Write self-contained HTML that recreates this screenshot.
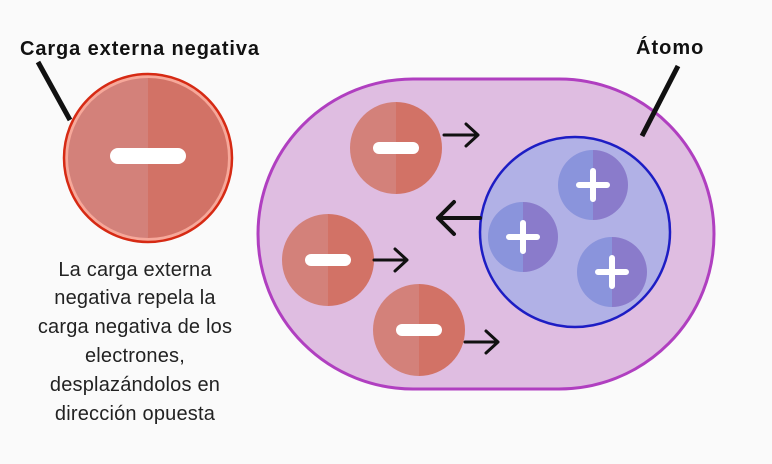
<!DOCTYPE html>
<html><head><meta charset="utf-8"><style>
html,body{margin:0;padding:0;background:#fafafa;}
svg{display:block;font-family:"Liberation Sans",sans-serif;}
</style></head><body>
<svg width="772" height="464" viewBox="0 0 772 464">
<defs>
<clipPath id="cE"><circle cx="148" cy="158" r="80"/></clipPath>
</defs>
<rect width="772" height="464" fill="#fafafa"/>
<text x="20" y="55" font-size="20" font-weight="bold" letter-spacing="0.9" fill="#111">Carga externa negativa</text>
<line x1="38" y1="62" x2="70" y2="120" stroke="#111" stroke-width="5"/>
<g>
<circle cx="148" cy="158" r="84" fill="#f6a89a" stroke="#d62a14" stroke-width="2.5"/>
<g clip-path="url(#cE)"><rect x="60" y="70" width="88" height="180" fill="#d3817a"/><rect x="148" y="70" width="90" height="180" fill="#d27266"/></g>
<rect x="110" y="148" width="76" height="16" rx="8" fill="#fff"/>
</g>
<g font-size="20" letter-spacing="0.2" fill="#222" text-anchor="middle">
<text x="135" y="276">La carga externa</text>
<text x="135" y="304">negativa repela la</text>
<text x="135" y="333">carga negativa de los</text>
<text x="135" y="362">electrones,</text>
<text x="135" y="391">desplazándolos en</text>
<text x="135" y="420">dirección opuesta</text>
</g>
<rect x="258" y="79" width="456" height="310" rx="155" fill="#dfbde1" stroke="#b03fc0" stroke-width="3"/>
<text x="636" y="54" font-size="20" font-weight="bold" letter-spacing="1" fill="#111">Átomo</text>
<line x1="678" y1="66" x2="642" y2="136" stroke="#111" stroke-width="5"/>
<circle cx="575" cy="232" r="95" fill="#b1b1e6" stroke="#1d1dc4" stroke-width="2.5"/>
<g id="protons"></g>
<g id="electrons"></g>
<g stroke="#111" fill="none" stroke-linecap="round" stroke-linejoin="round">
<path d="M444 135 H478 M466 124 L478 135 L466 146" stroke-width="3"/>
<path d="M374 260 H407 M395 249 L407 260 L395 271" stroke-width="3"/>
<path d="M465 342 H498 M486 331 L498 342 L486 353" stroke-width="3"/>
<path d="M480 218 H438 M454 202 L438 218 L454 234" stroke-width="4"/>
</g>
</svg>
<script>
const protonX=[593,523,612], protonY=[185,237,272];
const electronX=[396,328,419], electronY=[148,260,330];
const NS="http://www.w3.org/2000/svg";
function mk(t,a,p){const e=document.createElementNS(NS,t);for(const k in a)e.setAttribute(k,a[k]);p.appendChild(e);return e;}
const defs=document.querySelector('defs');
const pg=document.getElementById('protons'), eg=document.getElementById('electrons');
protonX.forEach((x,i)=>{const y=protonY[i],r=35;
 const cp=mk('clipPath',{id:'cp'+i},defs);mk('circle',{cx:x,cy:y,r:r},cp);
 const g=mk('g',{'clip-path':'url(#cp'+i+')'},pg);
 
 
 mk('rect',{x:x-r,y:y-r,width:r,height:2*r,fill:'#8a94dc'},g);
 mk('rect',{x:x,y:y-r,width:r,height:2*r,fill:'#8a7bcb'},g);
 mk('path',{d:`M${x-14} ${y}H${x+14}M${x} ${y-14}V${y+14}`,stroke:'#fff','stroke-width':6,'stroke-linecap':'round'},pg);
});
electronX.forEach((x,i)=>{const y=electronY[i],r=46;
 const cp=mk('clipPath',{id:'ce'+i},defs);mk('circle',{cx:x,cy:y,r:r},cp);
 const g=mk('g',{'clip-path':'url(#ce'+i+')'},eg);
 
 
 mk('rect',{x:x-r,y:y-r,width:r,height:2*r,fill:'#d3817a'},g);
 mk('rect',{x:x,y:y-r,width:r,height:2*r,fill:'#d27266'},g);
 mk('rect',{x:x-23,y:y-6,width:46,height:12,rx:6,fill:'#fff'},eg);
});
</script>
</body></html>
